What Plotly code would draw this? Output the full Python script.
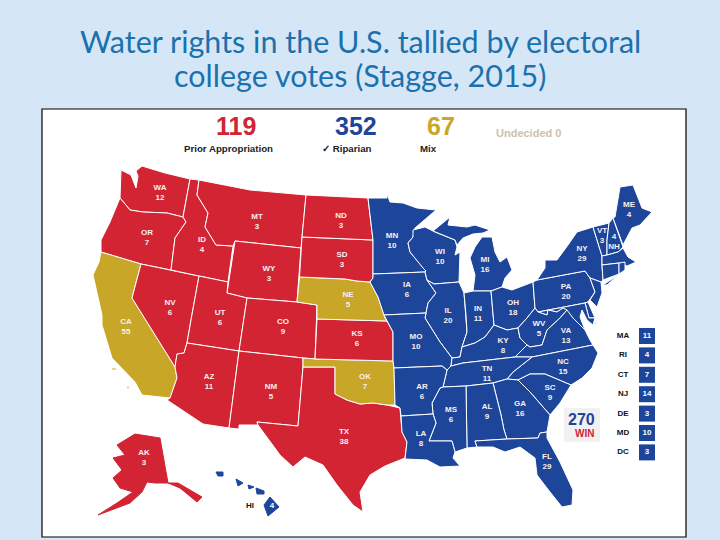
import plotly.graph_objects as go

TITLE_LINES = ["Water rights in the U.S. tallied by electoral", "college votes (Stagge, 2015)"]

TALLY_NAMES = ["Prior Appropriation", "✓ Riparian", "Mix"]
TALLY_VOTES = [119, 352, 67]
UNDECIDED = "Undecided 0"

PRIOR_STATES = ["WA", "OR", "ID", "MT", "WY", "NV", "UT", "CO", "AZ", "NM", "ND", "SD", "KS", "TX", "AK"]
PRIOR_VOTES = [12, 7, 4, 3, 3, 6, 6, 9, 11, 5, 3, 3, 6, 38, 3]
MIX_STATES = ["CA", "NE", "OK"]
MIX_VOTES = [55, 5, 7]
RIPARIAN_STATES = ["MN", "WI", "MI", "IA", "IL", "IN", "OH", "PA", "NY", "VT", "NH", "ME", "MO", "KY", "WV",
                   "VA", "TN", "NC", "AR", "MS", "AL", "GA", "SC", "LA", "FL", "HI"]
RIPARIAN_VOTES = [10, 10, 16, 6, 20, 11, 18, 20, 29, 3, 4, 4, 10, 8, 5, 13, 11, 15, 6, 6, 9, 16, 9, 8, 29, 4]
# small eastern states, listed in the box column instead of on the map
SMALL_STATES = ["MA", "RI", "CT", "NJ", "DE", "MD", "DC"]
SMALL_VOTES = [11, 4, 7, 14, 3, 10, 3]

# state outlines, there is no offline basemap
OUTLINES = {
    "WA": [[(121, 170), (131, 175), (136, 188), (138, 176), (136, 171), (142, 166), (165, 173), (190, 179), (183, 217), (167, 213), (143, 212), (130, 210), (120, 198)]],
    "OR": [[(120, 198), (130, 210), (143, 212), (167, 213), (183, 217), (186, 222), (175, 238), (171, 270), (141, 264), (101, 252), (101, 240), (110, 222)]],
    "CA": [[(101, 252), (141, 264), (132, 298), (175, 367), (177, 378), (170, 398), (142, 395), (135, 382), (112, 358), (102, 325), (102, 315), (93, 275), (99, 262)],
           [(111, 368), (116, 368), (117, 370), (112, 370)], [(127, 386), (129, 386), (129, 389), (127, 389)]],
    "NV": [[(141, 264), (171, 270), (199, 276), (191, 320), (187, 343), (184, 353), (177, 354), (175, 367), (132, 298)]],
    "ID": [[(190, 179), (199, 180), (197, 195), (208, 213), (205, 227), (216, 245), (233, 246), (228, 282), (199, 276), (171, 270), (175, 238), (186, 222), (183, 217)]],
    "MT": [[(199, 180), (250, 190), (306, 195), (302, 237), (301, 248), (235, 241), (233, 246), (216, 245), (205, 227), (208, 213), (197, 195)]],
    "WY": [[(235, 241), (301, 248), (297, 302), (247, 298), (227, 293)]],
    "UT": [[(199, 276), (228, 282), (227, 293), (247, 298), (239, 351), (187, 343), (191, 320)]],
    "CO": [[(247, 298), (297, 302), (317, 305), (315, 359), (303, 358), (239, 351)]],
    "AZ": [[(187, 343), (239, 351), (229, 428), (203, 424), (167, 400), (170, 398), (177, 378), (175, 367), (177, 354), (184, 353)]],
    "NM": [[(239, 351), (303, 358), (303, 367), (298, 426), (257, 422), (258, 425), (239, 425), (239, 429), (229, 428)]],
    "TX": [[(303, 367), (335, 367), (335, 394), (347, 400), (360, 404), (373, 403), (387, 405), (400, 408), (402, 432), (407, 442), (405, 458), (385, 466), (370, 475), (360, 492), (363, 512), (353, 505), (337, 485), (323, 465), (305, 457), (293, 467), (280, 455), (258, 425), (257, 422), (298, 426)]],
    "OK": [[(303, 358), (315, 359), (393, 361), (394, 368), (395, 405), (387, 405), (373, 403), (360, 404), (347, 400), (335, 394), (335, 367), (303, 367)]],
    "KS": [[(317, 319), (387, 321), (393, 332), (393, 361), (315, 359)]],
    "NE": [[(299.5, 277), (345, 279), (357, 281), (370, 282), (378, 297), (385, 318), (387, 321), (317, 319), (317, 305), (297, 302)]],
    "SD": [[(302, 237), (373, 240), (373, 278), (370, 282), (357, 281), (345, 279), (299.5, 277)]],
    "ND": [[(306, 195), (368, 198), (373, 240), (302, 237)]],
    "MN": [[(368, 198), (387, 198), (387, 194), (390, 202), (403, 203), (417, 208), (436, 210), (415, 228), (413, 237), (408, 243), (410, 252), (423, 268), (426, 271), (425, 272), (373, 274), (373, 240)]],
    "IA": [[(373, 274), (425, 272), (427, 280), (436, 293), (428, 303), (426, 313), (384, 315), (378, 297), (370, 282), (373, 278)]],
    "WI": [[(413, 230), (425, 227), (435, 232), (455, 240), (457, 247), (455, 255), (460, 252), (459, 282), (434, 284), (427, 280), (425, 272), (426, 271), (423, 268), (410, 252), (408, 243), (413, 237)]],
    "MI": [[(433, 231), (450, 217), (448, 225), (467, 227), (475, 225), (490, 230), (483, 233), (473, 234), (463, 238), (457, 245), (455, 240), (435, 232)],
           [(482, 237), (492, 237), (495, 252), (500, 262), (507, 257), (512, 270), (505, 278), (502, 287), (491, 291), (473, 291), (475, 275), (470, 258), (475, 247)]],
    "IL": [[(434, 284), (459, 282), (464, 293), (466, 315), (467, 332), (462, 347), (460, 357), (452, 358), (440, 342), (425, 318), (426, 313), (428, 303), (436, 293), (427, 280)]],
    "IN": [[(464, 293), (473, 291), (491, 291), (494, 325), (485, 337), (475, 343), (462, 347), (467, 332), (466, 315)]],
    "OH": [[(491, 291), (502, 287), (512, 290), (533, 282), (535, 308), (527, 318), (518, 328), (507, 330), (494, 325)]],
    "PA": [[(533, 282), (537, 280), (585, 271), (590, 278), (595, 292), (588, 302), (585, 303), (538, 312), (535, 308)]],
    "NY": [[(545, 260), (557, 260), (568, 245), (577, 232), (593, 227), (602, 256), (602, 265), (603, 280), (601, 282), (590, 278), (585, 271), (537, 280), (545, 268)],
           [(603, 285), (618, 275), (607, 285)]],
    "VT": [[(593, 227), (609, 223), (607, 240), (607, 255), (602, 256)]],
    "NH": [[(609, 223), (613, 218), (623, 247), (618, 252), (607, 255), (607, 240)]],
    "ME": [[(615, 217), (620, 187), (633, 185), (642, 208), (652, 212), (640, 225), (632, 228), (623, 245), (613, 218)]],
    "MA": [[(602, 256), (607, 255), (618, 252), (623, 248), (628, 257), (636, 262), (627, 266), (619, 263), (602, 265)]],
    "CT": [[(602, 265), (617, 263), (619, 263), (619, 274), (603, 280)]],
    "RI": [[(619, 263), (625, 262), (625, 270), (619, 274)]],
    "NJ": [[(590, 278), (601, 282), (602, 293), (597, 307), (590, 300), (595, 292)]],
    "DE": [[(585, 303), (588, 302), (595, 318), (589, 318)]],
    "MD": [[(538, 312), (585, 303), (589, 318), (595, 318), (593, 325), (587, 320), (582, 310), (580, 317), (585, 330), (573, 318), (563, 308), (557, 312), (548, 310), (547, 315)]],
    "MO": [[(384, 315), (426, 313), (425, 318), (440, 342), (452, 358), (451, 366), (447, 370), (442, 366), (394, 368), (393, 361), (393, 332), (387, 321)]],
    "KY": [[(462, 347), (475, 343), (485, 337), (494, 325), (507, 330), (518, 328), (520, 338), (527, 345), (515, 357), (463, 363), (451, 366), (452, 358), (460, 357)]],
    "WV": [[(535, 308), (538, 312), (547, 315), (548, 310), (557, 312), (563, 308), (567, 310), (560, 318), (547, 330), (542, 345), (530, 347), (527, 345), (520, 338), (518, 328), (527, 318)]],
    "VA": [[(527, 345), (530, 347), (542, 345), (547, 330), (560, 318), (567, 310), (573, 318), (585, 330), (590, 340), (593, 345), (532, 357), (515, 357)],
           [(595, 323), (597, 320), (593, 333)]],
    "NC": [[(593, 345), (598, 353), (592, 368), (582, 378), (571, 385), (545, 374), (530, 374), (518, 380), (507, 379), (513, 372), (532, 357)]],
    "TN": [[(451, 366), (463, 363), (515, 357), (532, 357), (513, 372), (507, 379), (493, 383), (466, 386), (443, 387), (447, 370)]],
    "SC": [[(518, 380), (530, 374), (545, 374), (571, 385), (560, 403), (550, 415), (530, 392)]],
    "GA": [[(493, 383), (507, 379), (518, 380), (530, 392), (550, 415), (547, 432), (540, 433), (538, 438), (507, 439), (504, 430), (501, 415)]],
    "AL": [[(466, 386), (493, 383), (501, 415), (504, 430), (507, 439), (475, 441), (477, 447), (467, 448)]],
    "MS": [[(443, 387), (466, 386), (467, 448), (455, 452), (452, 441), (429, 441), (436, 423), (433, 414), (432, 403), (440, 388)]],
    "AR": [[(394, 368), (442, 366), (447, 370), (443, 387), (440, 388), (432, 403), (433, 414), (401, 416), (400, 408), (395, 405)]],
    "LA": [[(401, 416), (433, 414), (436, 423), (429, 441), (452, 441), (455, 452), (453, 458), (460, 466), (440, 467), (427, 460), (405, 459), (407, 442), (402, 432)]],
    "FL": [[(475, 441), (507, 439), (538, 438), (540, 433), (547, 432), (547, 438), (560, 462), (573, 490), (572, 505), (562, 507), (550, 492), (537, 475), (535, 458), (520, 447), (505, 452), (493, 447), (477, 447)]],
    "AK": [[(135, 434), (160, 438), (168, 483), (178, 483), (202, 497), (197, 502), (180, 488), (168, 483), (155, 483), (147, 482), (142, 492), (130, 503), (98, 515), (117, 503), (133, 492), (120, 488), (113, 478), (122, 470), (113, 458), (125, 455), (117, 445)]],
    "HI": [[(270, 497), (279, 507), (268, 516), (264, 505)], [(256, 488), (264, 491), (264, 494), (257, 494)], [(236, 479), (243, 483), (238, 486)],
           [(216, 472), (223, 472), (223, 476), (218, 476)], [(248, 485), (254, 487), (249, 489)]],
}

# where each state's label sits on the map
LABEL_SPOTS = {
    "WA": (160, 193), "OR": (147, 238), "ID": (202, 245), "MT": (257, 222), "ND": (341, 221), "SD": (342, 260),
    "WY": (269, 274), "NE": (348, 300), "UT": (220, 318), "NV": (170, 308), "CA": (126, 327), "CO": (283, 327),
    "KS": (357, 339), "AZ": (209, 382), "NM": (271, 392), "TX": (344, 437), "OK": (365, 382), "AK": (144, 458),
    "MN": (392, 241), "WI": (440, 257), "MI": (485, 265), "IA": (407, 290), "IL": (448, 316), "IN": (478, 314),
    "OH": (513, 308), "PA": (566, 292), "NY": (582, 254), "VT": (602, 236), "NH": (614, 242), "ME": (629, 210),
    "MO": (416, 342), "KY": (503, 346), "WV": (539, 329), "VA": (566, 336), "TN": (487, 374), "NC": (563, 367),
    "AR": (422, 392), "MS": (451, 415), "AL": (487, 412), "GA": (520, 409), "SC": (550, 393), "LA": (421, 439),
    "FL": (547, 462),
}

RED = "#d22433"
BLUE = "#1d469b"
GOLD = "#c8a628"
PAGE_BG = "#d5e7f6"
LABEL_FONT = "Liberation Sans"

state_color = {}
state_votes = {}
for names, votes, color in [(PRIOR_STATES, PRIOR_VOTES, RED), (MIX_STATES, MIX_VOTES, GOLD),
                            (RIPARIAN_STATES, RIPARIAN_VOTES, BLUE), (SMALL_STATES, SMALL_VOTES, BLUE)]:
    for name, vote in zip(names, votes):
        state_color[name] = color
        state_votes[name] = vote

fig = go.Figure()

for name, parts in OUTLINES.items():
    xs, ys = [], []
    for part in parts:
        xs += [p[0] for p in part] + [part[0][0], None]
        ys += [p[1] for p in part] + [part[0][1], None]
    fig.add_trace(go.Scatter(x=xs, y=ys, mode="lines", fill="toself", fillcolor=state_color[name],
                             line=dict(color="#ffffff" if name not in ("AK", "HI") else state_color[name], width=1),
                             name=name, showlegend=False, hoverinfo="name"))

labels = list(LABEL_SPOTS)
label_text = []
for name in labels:
    # NH is printed votes first in the reference
    if name == "NH":
        label_text.append(f"{state_votes[name]}<br>{name}")
    else:
        label_text.append(f"{name}<br>{state_votes[name]}")
fig.add_trace(go.Scatter(x=[LABEL_SPOTS[n][0] for n in labels], y=[LABEL_SPOTS[n][1] for n in labels],
                         mode="text", text=label_text, showlegend=False, hoverinfo="skip",
                         textfont=dict(family=LABEL_FONT, size=8, color="#fbeeee", weight="bold")))

# box column for the small states
box_y = [336 + 19.4 * i for i in range(len(SMALL_STATES))]
fig.add_trace(go.Scatter(x=[647] * len(SMALL_STATES), y=box_y, mode="markers+text", text=[str(v) for v in SMALL_VOTES],
                         marker=dict(symbol="square", size=16, color=BLUE), showlegend=False, hoverinfo="skip",
                         textposition="middle center", textfont=dict(family=LABEL_FONT, size=8, color="#ffffff", weight="bold")))
fig.add_trace(go.Scatter(x=[623] * len(SMALL_STATES), y=box_y, mode="text", text=SMALL_STATES, showlegend=False,
                         hoverinfo="skip", textfont=dict(family=LABEL_FONT, size=8, color="#111111", weight="bold")))

fig.add_trace(go.Scatter(x=[250, 272], y=[506, 506], mode="text", text=["HI", str(state_votes["HI"])], showlegend=False,
                         hoverinfo="skip", textfont=dict(family=LABEL_FONT, size=8, color=["#111111", "#ffffff"], weight="bold")))

fig.add_shape(type="rect", x0=42, x1=686, y0=109, y1=537, fillcolor="#ffffff", line=dict(color="#000000", width=1.2), layer="below")
# 270toWin badge
fig.add_shape(type="rect", x0=564, x1=600, y0=408, y1=442, fillcolor="#f1f1f1", line=dict(width=0), layer="below")


def note(x, y, text, size, color, family=LABEL_FONT, weight="bold"):
    fig.add_annotation(x=x, y=y, text=text, showarrow=False, xanchor="center", yanchor="middle",
                       font=dict(family=family, size=size, color=color, weight=weight))


note(360, 41, TITLE_LINES[0], 30.5, "#1b71ae", family="Lato", weight="normal")
note(360, 75, TITLE_LINES[1], 30.5, "#1b71ae", family="Lato", weight="normal")

for x, x_name, vote, name, color in zip([236, 356, 441], [228, 347, 428], TALLY_VOTES, TALLY_NAMES, [RED, BLUE, GOLD]):
    note(x, 126, str(vote), 25, color)
    note(x_name, 148, name, 9.7, "#222222")
note(528, 133, UNDECIDED, 11, "#cbc2ac")
note(581, 419, "270", 16, BLUE)
note(584, 433, "WIN", 10, RED)

fig.update_xaxes(range=[0, 720], visible=False, fixedrange=True)
fig.update_yaxes(range=[540, 0], visible=False, fixedrange=True)
fig.update_layout(width=720, height=540, margin=dict(l=0, r=0, t=0, b=0), paper_bgcolor=PAGE_BG, plot_bgcolor=PAGE_BG,
                  showlegend=False)

fig.write_html("out.html", post_script="document.body.style.margin = '0';", config=dict(displayModeBar=False))
